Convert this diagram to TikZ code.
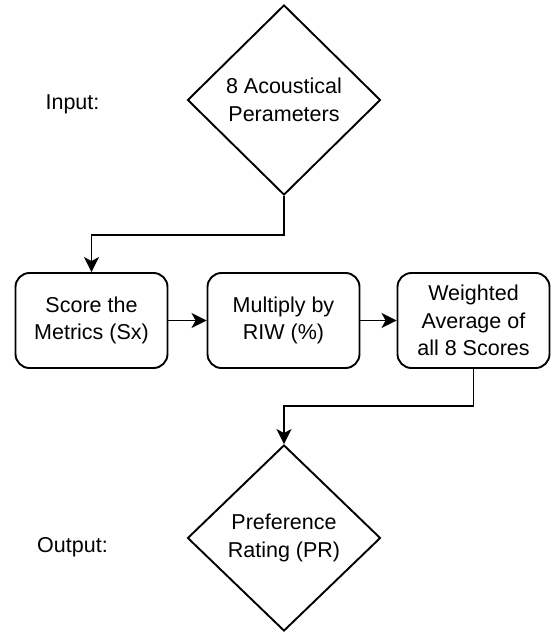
\documentclass[tikz,border=0pt]{standalone}
\usepackage{fontspec}
\setmainfont{Liberation Sans}
\usetikzlibrary{shapes.geometric,arrows.meta}
\begin{document}
\begin{tikzpicture}[x=1pt,y=-1pt,
  every node/.style={font=\fontsize{21.5}{27.5}\selectfont, align=center, inner sep=0pt},
  decision/.style={draw, diamond, line width=1.9pt, minimum width=193pt, minimum height=190pt},
  process/.style={draw, rounded corners=14pt, line width=1.9pt, minimum width=152pt, minimum height=95pt},
  flow/.style={line width=1.9pt, -{Stealth[length=15pt,width=15pt,inset=4pt]}}
]
\useasboundingbox (0,0) rectangle (550,636);

% inputs and outputs
\node[decision] (in) at (284,100) {8 Acoustical\\Perameters};
\node[decision, minimum height=186pt] (out) at (284,538) {Preference\\Rating (PR)};

% processing steps
\node[process] (b1) at (91.5,320.5) {Score the\\Metrics (Sx)};
\node[process] (b2) at (283.5,320.5) {Multiply by\\RIW (\%)};
\node[process] (b3) at (473.5,320.5) {Weighted\\Average of\\all 8 Scores};

% side labels
\node (lin) at (72.5,104) {Input:};
\node (lout) at (72.5,547) {Output:};

% bend points of the elbow connectors
\coordinate (j1) at (0,235);
\coordinate (j2) at (0,406);

\draw[flow] (in.south) -- (in.south |- j1) -| (b1.north);
\draw[flow] (b1) -- (b2);
\draw[flow] (b2) -- (b3);
\draw[flow] (b3.south) -- (b3.south |- j2) -| (out.north);
\end{tikzpicture}
\end{document}
